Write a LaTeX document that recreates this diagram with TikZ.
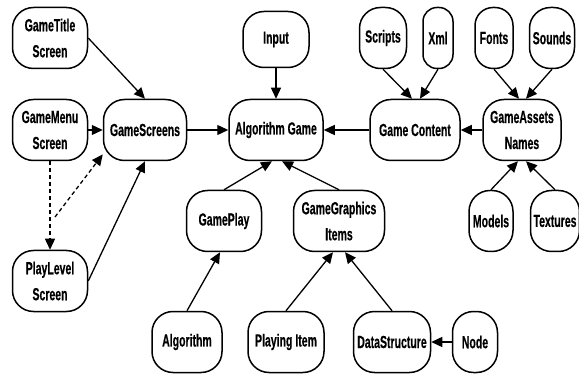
\documentclass[tikz,border=0pt]{standalone}
\usepackage{fontspec}
\setmainfont{Liberation Sans}[FakeStretch=0.6, BoldFeatures={FakeBold=0.4}]
\usepackage{tikz}
\usetikzlibrary{arrows.meta}

\tikzset{
	box/.style={shape=rectangle, rounded corners=21pt, draw=black, line width=1.5pt,
		minimum height=61pt, inner xsep=3pt, inner ysep=2pt, align=center,
		font=\fontsize{17.5}{26}\selectfont\bfseries},
	link/.style={-{Triangle[length=11pt,width=10pt]}, line width=1.3pt},
	dlink/.style={link, dash pattern=on 4pt off 3pt},
}

\begin{document}
\begin{tikzpicture}[x=1pt, y=-1pt]
	\useasboundingbox (0,0) rectangle (579,377);

	\node[box, minimum width=75] (gtitle) at (50, 38)     {GameTitle\\Screen};
	\node[box, minimum width=75] (gmenu) at (50, 130)     {GameMenu\\Screen};
	\node[box, minimum width=75] (plevel) at (50, 281)     {PlayLevel\\Screen};
	\node[box, minimum width=83] (gscreens) at (145, 130)     {GameScreens};
	\node[box, minimum width=66, minimum height=56] (input) at (276, 39.5)     {Input};
	\node[box, minimum width=94] (alggame) at (276, 130)     {Algorithm Game};
	\node[box, minimum width=90] (gcontent) at (415, 130)     {Game Content};
	\node[box, minimum width=78] (gassets) at (522, 130)     {GameAssets\\Names};
	\node[box, minimum width=47] (scripts) at (383, 38)     {Scripts};
	\node[box, minimum width=30, rounded corners=14pt] (xml) at (438, 38)     {Xml};
	\node[box, minimum width=38, rounded corners=18pt] (fonts) at (494, 38)     {Fonts};
	\node[box, minimum width=45] (sounds) at (552, 38)     {Sounds};
	\node[box, minimum width=44] (models) at (491, 221)     {Models};
	\node[box, minimum width=46] (textures) at (555, 221)     {Textures};
	\node[box, minimum width=75] (gameplay) at (224, 221)     {GamePlay};
	\node[box, minimum width=91] (ggraphics) at (339, 221)     {GameGraphics\\Items};
	\node[box, minimum width=70] (algorithm) at (187, 342)     {Algorithm};
	\node[box, minimum width=76] (pitem) at (286, 342)     {Playing Item};
	\node[box, minimum width=77] (dstruct) at (392, 342)     {DataStructure};
	\node[box, minimum width=45] (nodebox) at (475, 342)     {Node};
	\coordinate (split) at (55, 217);

	\path[link] (gtitle.east) edge (gscreens.north);
	\path[link] (gmenu) edge (gscreens);
	\path[dlink] (gmenu) edge (plevel);
	\path[dlink] (split) edge (gscreens.210);
	\path[link] (plevel.east) edge (gscreens.south);
	\path[link] (gscreens) edge (alggame);
	\path[link] (input) edge (alggame);
	\path[link] (gcontent) edge (alggame);
	\path[link] (gassets) edge (gcontent);
	\path[link] (scripts.south) edge ([xshift=-3pt]gcontent.north);
	\path[link] (xml.south) edge ([xshift=5pt]gcontent.north);
	\path[link] (fonts.south) edge ([xshift=-3pt]gassets.north);
	\path[link] (sounds.south) edge ([xshift=4pt]gassets.north);
	\path[link] (models.north) edge ([xshift=-4pt]gassets.south);
	\path[link] (textures.north) edge ([xshift=4pt]gassets.south);
	\path[link] (gameplay.north) edge ([xshift=-4pt]alggame.south);
	\path[link] (ggraphics.north) edge ([xshift=6pt]alggame.south);
	\path[link] (algorithm.north) edge ([xshift=-4pt]gameplay.south);
	\path[link] (pitem.north) edge ([xshift=-6pt]ggraphics.south);
	\path[link] (dstruct.north) edge ([xshift=6pt]ggraphics.south);
	\path[link] (nodebox) edge (dstruct);

\end{tikzpicture}
\end{document}
